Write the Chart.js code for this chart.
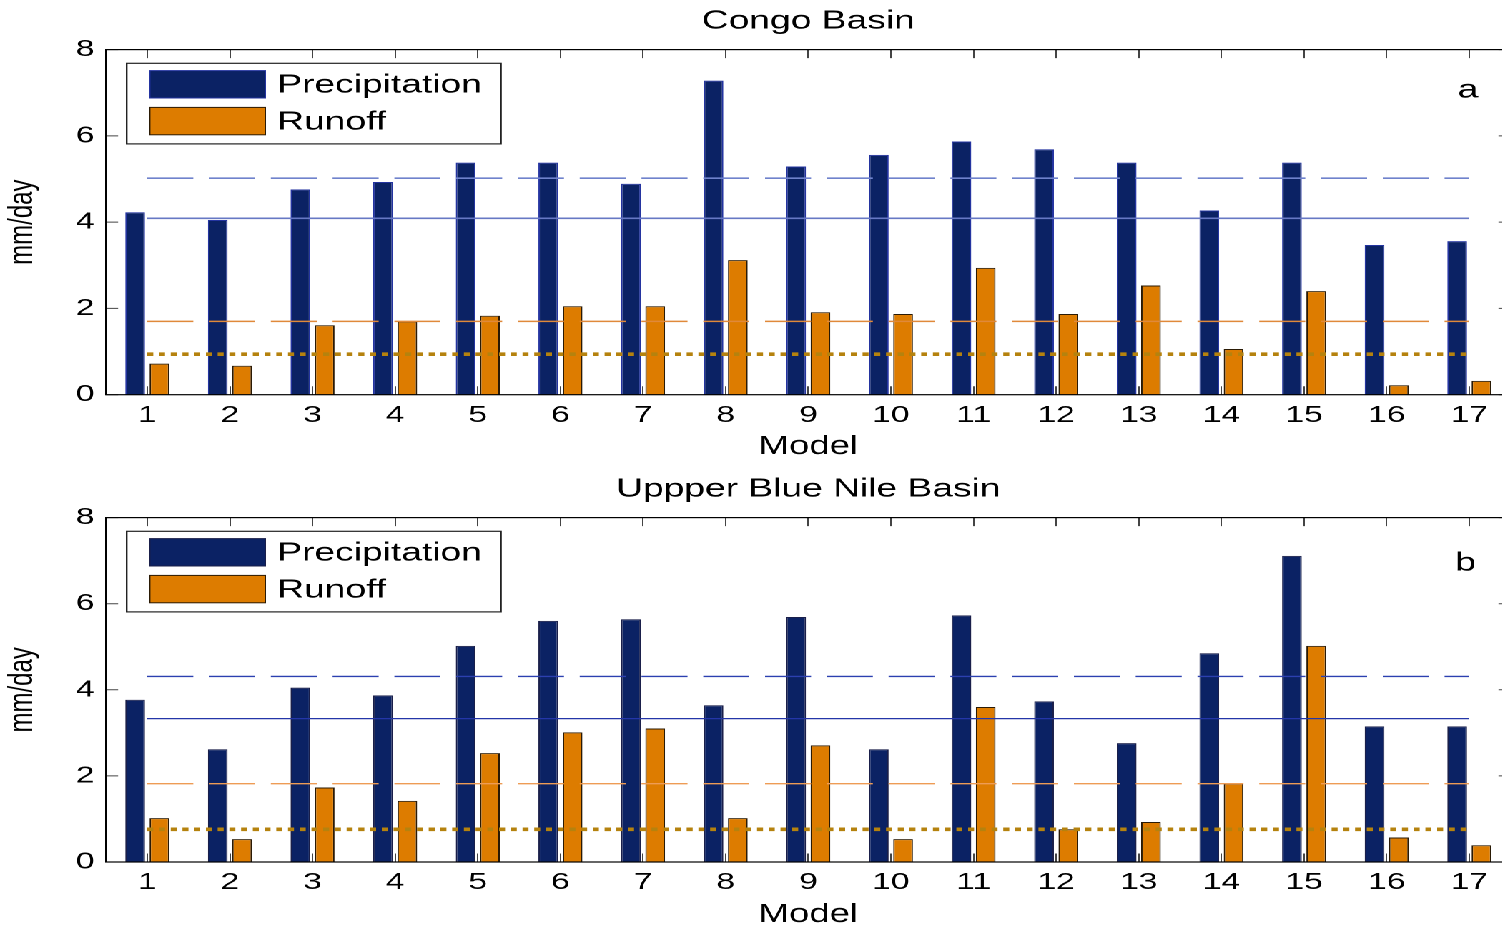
<!DOCTYPE html>
<html>
<head>
<meta charset="utf-8">
<title>Precipitation and runoff by model</title>
<script src="https://cdn.jsdelivr.net/npm/chart.js@4.4.1/dist/chart.umd.min.js"></script>
<style>
  html, body { margin: 0; padding: 0; background: #fff; overflow: hidden; }
  /* the figure is drawn narrow and widened, like the exported plot */
  #stage { width: 1060px; transform: scaleX(1.43); transform-origin: 0 0; }
  canvas { display: block; }
</style>
</head>
<body>
<div id="stage">
  <canvas id="congoChart" width="1060" height="458"></canvas>
  <canvas id="nileChart" width="1060" height="468"></canvas>
</div>
<script>
// 🔹 DATA
const models = ["1", "2", "3", "4", "5", "6", "7", "8", "9", "10", "11", "12", "13", "14", "15", "16", "17"];
const yTicks = [0, 2, 4, 6, 8];

// Congo Basin (mm/day)
const congoPrecip = [4.23, 4.05, 4.76, 4.93, 5.38, 5.38, 4.89, 7.28, 5.29, 5.56, 5.87, 5.69, 5.38, 4.27, 5.38, 3.47, 3.56];
const congoRunoff = [0.72, 0.67, 1.61, 1.70, 1.83, 2.05, 2.05, 3.12, 1.91, 1.87, 2.94, 1.87, 2.53, 1.06, 2.40, 0.22, 0.32];
// model mean precip, observed precip, model mean runoff, observed runoff
const congoRefs = [5.02, 4.09, 1.70, 0.94];

// Upper Blue Nile Basin (mm/day)
const nilePrecip = [3.77, 2.62, 4.05, 3.87, 5.02, 5.60, 5.64, 3.64, 5.69, 2.62, 5.73, 3.73, 2.76, 4.85, 7.11, 3.15, 3.15];
const nileRunoff = [1.02, 0.53, 1.73, 1.42, 2.53, 3.01, 3.10, 1.02, 2.71, 0.53, 3.60, 0.76, 0.93, 1.82, 5.02, 0.57, 0.39];
const nileRefs = [4.31, 3.33, 1.82, 0.76];

const FONT = '"Liberation Sans", Arial, Helvetica, sans-serif';
Chart.defaults.font.family = FONT;
Chart.defaults.color = "#000";

// 🔹 axes box, inward ticks, boxed legend and panel letter
const TICK_LEN = 8.5;

const matlabAxes = {
  id: "matlabAxes",
  afterLayout(chart) {
    // centre the title over the plotting box
    const t = chart.titleBlock;
    if (t) {
      t.left = chart.chartArea.left;
      t.right = chart.chartArea.right;
    }
  },
  afterDatasetsDraw(chart, args, opts) {
    const { ctx, chartArea: a } = chart;
    const x = chart.scales.x;
    const y = chart.scales.y;

    ctx.save();

    // tick marks pointing inwards on all four sides
    ctx.strokeStyle = "#444";
    ctx.lineWidth = 1;
    ctx.beginPath();
    x.ticks.forEach((t, i) => {
      const px = Math.round(x.getPixelForTick(i) * 2) / 2;
      ctx.moveTo(px, a.bottom);
      ctx.lineTo(px, a.bottom - TICK_LEN);
      ctx.moveTo(px, a.top);
      ctx.lineTo(px, a.top + TICK_LEN);
    });
    y.ticks.forEach((t, i) => {
      const py = y.getPixelForTick(i);
      ctx.moveTo(a.left, py);
      ctx.lineTo(a.left + TICK_LEN, py);
      ctx.moveTo(a.right, py);
      ctx.lineTo(a.right - TICK_LEN, py);
    });
    ctx.stroke();

    // box
    ctx.strokeStyle = "#000";
    ctx.lineWidth = 1.2;
    ctx.strokeRect(a.left, a.top, a.right - a.left, a.bottom - a.top);

    // legend
    const lg = opts.legend;
    const bx = a.left + lg.left;
    const by = a.top + lg.top;
    ctx.fillStyle = "#fff";
    ctx.fillRect(bx, by, lg.width, lg.height);
    ctx.strokeStyle = "#222";
    ctx.lineWidth = 1.2;
    ctx.strokeRect(bx, by, lg.width, lg.height);

    const bars = chart.data.datasets.filter(d => d.type === "bar");
    ctx.font = "26px " + FONT;
    ctx.textAlign = "left";
    ctx.textBaseline = "middle";
    bars.forEach((ds, i) => {
      const sy = a.top + lg.rows[i];
      ctx.fillStyle = ds.backgroundColor;
      ctx.fillRect(a.left + lg.swatchLeft, sy, lg.swatchWidth, lg.swatchHeight);
      ctx.strokeStyle = ds.borderColor;
      ctx.lineWidth = 1;
      ctx.strokeRect(a.left + lg.swatchLeft, sy, lg.swatchWidth, lg.swatchHeight);
      ctx.fillStyle = "#000";
      ctx.fillText(ds.label, a.left + lg.textLeft, sy + lg.swatchHeight / 2 + 1);
    });

    // panel letter
    ctx.font = "26px " + FONT;
    ctx.textAlign = "center";
    ctx.textBaseline = "alphabetic";
    ctx.fillStyle = "#000";
    ctx.fillText(opts.letter, a.right + opts.letterX, a.top + opts.letterY);

    ctx.restore();
  }
};

// 🔹 CHART BUILDER
function refLine(label, value, color, width, dash) {
  return {
    type: "line",
    label: label,
    data: [{ x: models[0], y: value }, { x: models[models.length - 1], y: value }],
    borderColor: color,
    borderWidth: width,
    borderDash: dash,
    pointRadius: 0,
    fill: false,
    order: 1
  };
}

function makeChart(id, title, precip, runoff, refs, look) {
  return new Chart(document.getElementById(id), {
    type: "bar",
    data: {
      labels: models,
      datasets: [
        {
          type: "bar",
          label: "Precipitation",
          data: precip,
          backgroundColor: "#0b2264",
          borderColor: look.precipEdge,
          borderWidth: 1,
          categoryPercentage: 0.588,
          barPercentage: 0.811,
          order: 2
        },
        {
          type: "bar",
          label: "Runoff",
          data: runoff,
          backgroundColor: "#dd7c00",
          borderColor: "#2a1a05",
          borderWidth: 1,
          categoryPercentage: 0.588,
          barPercentage: 0.811,
          order: 2
        },
        refLine("Precipitation model mean", refs[0], look.blueDash, look.blueWidth, [32.2, 11]),
        refLine("Precipitation observed", refs[1], look.blueSolid, look.blueWidth, []),
        refLine("Runoff model mean", refs[2], look.orangeDash, 1.4, [32.2, 11]),
        refLine("Runoff observed", refs[3], "#b5820e", 3.6, [4.2, 4.0])
      ]
    },
    options: {
      responsive: false,
      animation: false,
      devicePixelRatio: 2,
      events: [],
      layout: { padding: { left: 0, right: 3.6, top: 0, bottom: 0 } },
      plugins: {
        legend: { display: false },
        tooltip: { enabled: false },
        title: {
          display: true,
          text: title,
          color: "#000",
          font: { size: 26, weight: "normal", lineHeight: 1.2 },
          padding: look.titlePad
        },
        matlabAxes: {
          letter: look.letter,
          letterX: look.letterX,
          letterY: look.letterY,
          legend: {
            left: 14.5, top: 13.7, width: 261.7, height: 80.6,
            swatchLeft: 30.6, swatchWidth: 80.8, swatchHeight: 27.4,
            rows: [21, 57.8], textLeft: 119.8
          }
        }
      },
      scales: {
        x: {
          type: "category",
          offset: true,
          grid: { display: false, drawTicks: false },
          border: { display: false },
          ticks: { font: { size: 23.5 }, padding: 6.5, maxRotation: 0, autoSkip: false },
          title: {
            display: true,
            text: "Model",
            font: { size: 25.5, lineHeight: 0.88 },
            padding: { top: 0, bottom: 0 }
          },
          afterFit: s => { s.height = look.xHeight; }
        },
        y: {
          min: 0,
          max: 8,
          grid: { display: false, drawTicks: false },
          border: { display: false },
          afterBuildTicks: s => { s.ticks = yTicks.map(v => ({ value: v })); },
          ticks: { font: { size: 23.5 }, padding: 8 },
          title: {
            display: true,
            text: "mm/day",
            font: { size: 24, lineHeight: 1.2 },
            padding: { top: 1.6, bottom: 0 }
          },
          afterFit: s => { s.width = 74.1; }
        }
      }
    },
    plugins: [matlabAxes]
  });
}

// 🔹 CHARTS
makeChart("congoChart", "Congo Basin", congoPrecip, congoRunoff, congoRefs, {
  precipEdge: "#2434a0",
  blueDash: "#6f82cc",
  blueSolid: "#6778c4",
  blueWidth: 1.6,
  orangeDash: "#e0893a",
  titlePad: { top: 5.7, bottom: 12.7 },
  xHeight: 63.3,
  letter: "a",
  letterX: -29.8,
  letterY: 48
});

makeChart("nileChart", "Uppper Blue Nile Basin", nilePrecip, nileRunoff, nileRefs, {
  precipEdge: "#1a1f4a",
  blueDash: "#2c40b0",
  blueSolid: "#2436a8",
  blueWidth: 1.3,
  orangeDash: "#ee9c55",
  titlePad: { top: 15.7, bottom: 12.7 },
  xHeight: 64,
  letter: "b",
  letterX: -31.6,
  letterY: 53
});
</script>
</body>
</html>
